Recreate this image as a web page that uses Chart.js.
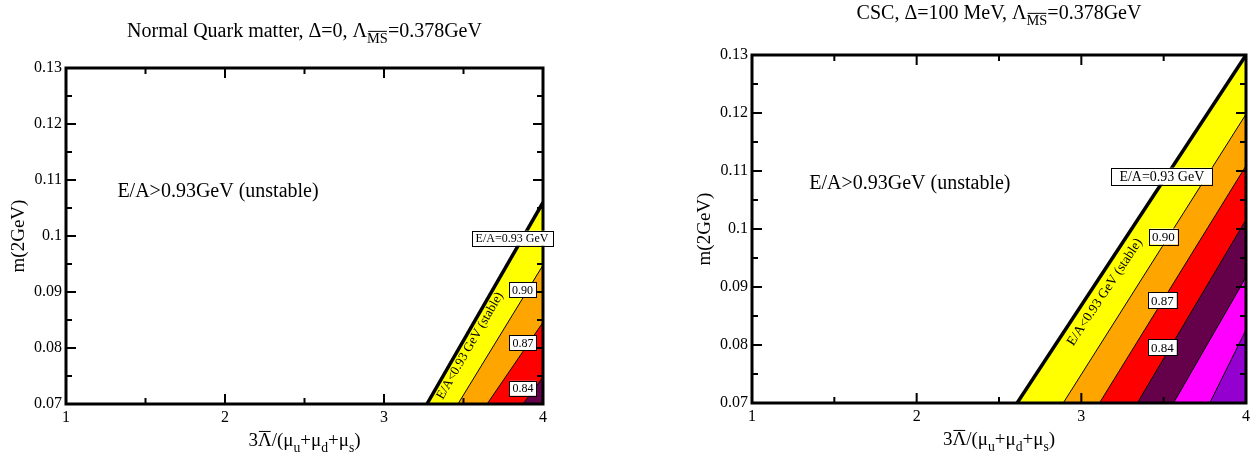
<!DOCTYPE html>
<html>
<head>
<meta charset="utf-8">
<script src="https://cdn.jsdelivr.net/npm/chart.js@4.4.0/dist/chart.umd.min.js"></script>
<style>
  html, body { margin: 0; padding: 0; background: #fff; }
  #wrap { position: relative; width: 1260px; height: 456px; }
  .panel { position: absolute; top: 0; width: 630px; height: 456px; }
</style>
</head>
<body>
<div id="wrap">
  <div class="panel" style="left:0"><canvas id="chart-normal"></canvas></div>
  <div class="panel" style="left:630px"><canvas id="chart-csc"></canvas></div>
</div>
<script>
  'use strict';

  var FONT = '"Liberation Serif", "DejaVu Serif", serif';

  // axis ticks
  var X_TICKS = [1, 2, 3, 4];
  var X_MINOR = [1.5, 2.5, 3.5];
  var Y_TICKS = [0.07, 0.08, 0.09, 0.1, 0.11, 0.12, 0.13];
  var Y_MINOR = [0.075, 0.085, 0.095, 0.105, 0.115, 0.125];
  var M_MIN = 0.07;
  var X_MAX = 4;

  // E/A contour levels (GeV); each level line runs from the bottom edge (m = 0.07)
  // to the right edge (x = 4)
  var NORMAL_LEVELS = [0.93, 0.90, 0.87, 0.84];
  var NORMAL_X_AT_BOTTOM = [3.27, 3.465, 3.648, 3.874];
  var NORMAL_M_AT_RIGHT = [0.106, 0.0948, 0.0846, 0.0748];

  var CSC_LEVELS = [0.93, 0.90, 0.87, 0.84, 0.81, 0.78];
  var CSC_X_AT_BOTTOM = [2.61, 2.89, 3.11, 3.34, 3.56, 3.78];
  var CSC_M_AT_RIGHT = [0.13, 0.1198, 0.1109, 0.1016, 0.0917, 0.0826];

  var BAND_COLORS = ['#ffff00', '#ffa500', '#ff0000', '#65004a', '#ff00ff', '#9400d0'];

  function buildDatasets(levels, xb, mr) {
    var sets = [];
    // level lines on top
    levels.forEach(function (lv, i) {
      sets.push({
        label: 'E/A=' + lv,
        data: [{ x: xb[i], y: M_MIN }, { x: X_MAX, y: mr[i] }],
        showLine: true,
        borderColor: '#000',
        borderWidth: i === 0 ? 3.5 : 1,
        pointRadius: 0,
        fill: false,
        order: 0
      });
    });
    // filled bands between neighbouring levels
    levels.forEach(function (lv, i) {
      var pts = [{ x: xb[i], y: M_MIN }, { x: X_MAX, y: mr[i] }];
      if (i < levels.length - 1) {
        pts.push({ x: X_MAX, y: mr[i + 1] }, { x: xb[i + 1], y: M_MIN });
      } else {
        pts.push({ x: X_MAX, y: M_MIN });
      }
      sets.push({
        label: 'band ' + lv,
        data: pts,
        showLine: true,
        borderWidth: 0,
        borderColor: BAND_COLORS[i],
        backgroundColor: BAND_COLORS[i],
        pointRadius: 0,
        fill: 'shape',
        order: 1
      });
    });
    return sets;
  }

  // text with subscripts / overlines
  function drawRich(ctx, parts, cx, cy, size) {
    var total = 0;
    parts.forEach(function (p) {
      var s = p.sub ? size * 0.72 : size;
      ctx.font = s + 'px ' + FONT;
      p.w = ctx.measureText(p.t).width;
      total += p.w;
    });
    var x = cx - total / 2;
    var base = cy + size * 0.33;
    ctx.textAlign = 'left';
    ctx.textBaseline = 'alphabetic';
    ctx.fillStyle = '#000';
    ctx.strokeStyle = '#000';
    parts.forEach(function (p) {
      var s = p.sub ? size * 0.72 : size;
      var y = p.sub ? base + size * 0.3 : base;
      ctx.font = s + 'px ' + FONT;
      ctx.fillText(p.t, x, y);
      if (p.over) {
        var oy = y - s * 0.78;
        ctx.lineWidth = 1;
        ctx.beginPath();
        ctx.moveTo(x + 1, oy);
        ctx.lineTo(x + p.w - 1, oy);
        ctx.stroke();
      }
      x += p.w;
    });
  }

  var X_TITLE = [
    { t: '3' }, { t: '\u039B', over: true }, { t: '/(\u03BC' }, { t: 'u', sub: true },
    { t: '+\u03BC' }, { t: 'd', sub: true }, { t: '+\u03BC' }, { t: 's', sub: true }, { t: ')' }
  ];

  var panelText = {
    id: 'panelText',
    afterDatasetsDraw: function (chart, args, o) {
      var ctx = chart.ctx;
      var a = chart.chartArea;
      var xs = chart.scales.x, ys = chart.scales.y;
      ctx.save();
      ctx.strokeStyle = '#000';

      // inward ticks on all four sides
      function xt(v, len) {
        var px = xs.getPixelForValue(v);
        ctx.beginPath();
        ctx.moveTo(px, a.bottom); ctx.lineTo(px, a.bottom - len);
        ctx.moveTo(px, a.top); ctx.lineTo(px, a.top + len);
        ctx.stroke();
      }
      function yt(v, len) {
        var py = ys.getPixelForValue(v);
        ctx.beginPath();
        ctx.moveTo(a.left, py); ctx.lineTo(a.left + len, py);
        ctx.moveTo(a.right, py); ctx.lineTo(a.right - len, py);
        ctx.stroke();
      }
      ctx.lineWidth = 2;
      X_TICKS.forEach(function (v) { xt(v, 10); });
      X_MINOR.forEach(function (v) { xt(v, 6); });
      Y_TICKS.forEach(function (v) { yt(v, 10); });
      Y_MINOR.forEach(function (v) { yt(v, 6); });

      // frame
      ctx.lineWidth = 3;
      ctx.strokeRect(a.left, a.top, a.right - a.left, a.bottom - a.top);

      // level labels in boxes
      o.boxes.forEach(function (b) {
        ctx.font = b.size + 'px ' + FONT;
        var w = ctx.measureText(b.text).width + b.pad * 2;
        var h = b.size + 3;
        var cx = xs.getPixelForValue(b.x), cy = ys.getPixelForValue(b.y);
        ctx.fillStyle = '#fff';
        ctx.fillRect(cx - w / 2, cy - h / 2, w, h);
        ctx.lineWidth = 1;
        ctx.strokeRect(Math.round(cx - w / 2) + 0.5, Math.round(cy - h / 2) + 0.5, Math.round(w), Math.round(h));
        ctx.fillStyle = '#000';
        ctx.textAlign = 'center';
        ctx.textBaseline = 'middle';
        ctx.fillText(b.text, cx, cy + 1);
      });

      // text along the stable band
      var st = o.stable;
      ctx.save();
      ctx.translate(xs.getPixelForValue(st.x), ys.getPixelForValue(st.y));
      ctx.rotate(-st.angle * Math.PI / 180);
      ctx.font = st.size + 'px ' + FONT;
      ctx.fillStyle = '#000';
      ctx.textAlign = 'center';
      ctx.textBaseline = 'middle';
      ctx.fillText('E/A<0.93 GeV (stable)', 0, 0);
      ctx.restore();

      // unstable region
      ctx.font = o.unstable.size + 'px ' + FONT;
      ctx.fillStyle = '#000';
      ctx.textAlign = 'center';
      ctx.textBaseline = 'middle';
      ctx.fillText('E/A>0.93GeV (unstable)', xs.getPixelForValue(o.unstable.x), ys.getPixelForValue(o.unstable.y));

      // panel title
      var mid = (a.left + a.right) / 2;
      drawRich(ctx, o.title, mid + o.titleDx, a.top - o.titleGap, 20);

      // axis titles
      drawRich(ctx, X_TITLE, mid, a.bottom + 36, 19);
      ctx.save();
      ctx.translate(a.left - 47, (a.top + a.bottom) / 2);
      ctx.rotate(-Math.PI / 2);
      ctx.font = '19px ' + FONT;
      ctx.textAlign = 'center';
      ctx.textBaseline = 'middle';
      ctx.fillStyle = '#000';
      ctx.fillText('m(2GeV)', 0, 0);
      ctx.restore();

      ctx.restore();
    }
  };

  function makeChart(canvasId, levels, xb, mr, layout, text) {
    return new Chart(document.getElementById(canvasId), {
      type: 'scatter',
      data: { datasets: buildDatasets(levels, xb, mr) },
      options: {
        responsive: true,
        maintainAspectRatio: false,
        animation: false,
        layout: { padding: layout.padding },
        scales: {
          x: {
            type: 'linear', min: 1, max: X_MAX,
            afterBuildTicks: function (s) { s.ticks = X_TICKS.map(function (v) { return { value: v }; }); },
            afterFit: function (s) { s.height = layout.xHeight; },
            grid: { display: false, drawTicks: false },
            border: { display: false },
            ticks: {
              color: '#000', padding: 4, maxRotation: 0,
              font: { family: FONT, size: 16 },
              callback: function (v) { return String(v); }
            }
          },
          y: {
            type: 'linear', min: M_MIN, max: 0.13,
            afterBuildTicks: function (s) { s.ticks = Y_TICKS.map(function (v) { return { value: v }; }); },
            afterFit: function (s) { s.width = 66; },
            grid: { display: false, drawTicks: false },
            border: { display: false },
            ticks: {
              color: '#000', padding: 4,
              font: { family: FONT, size: 16 },
              callback: function (v) { return String(+v.toFixed(2)); }
            }
          }
        },
        plugins: {
          legend: { display: false },
          tooltip: { enabled: false },
          panelText: text
        }
      },
      plugins: [panelText]
    });
  }

  makeChart('chart-normal', NORMAL_LEVELS, NORMAL_X_AT_BOTTOM, NORMAL_M_AT_RIGHT,
    { padding: { left: 0, right: 87, top: 68, bottom: 0 }, xHeight: 52 },
    {
      title: [{ t: 'Normal Quark matter, \u0394=0, \u039B' }, { t: 'MS', sub: true, over: true }, { t: '=0.378GeV' }],
      titleGap: 38,
      titleDx: 0,
      boxes: [
        { text: 'E/A=0.93 GeV', x: 3.805, y: 0.0996, size: 12, pad: 4 },
        { text: '0.90', x: 3.871, y: 0.0904, size: 12, pad: 3 },
        { text: '0.87', x: 3.874, y: 0.0809, size: 12, pad: 3 },
        { text: '0.84', x: 3.874, y: 0.0728, size: 12, pad: 3 }
      ],
      stable: { x: 3.541, y: 0.0804, angle: 60, size: 13 },
      unstable: { x: 1.956, y: 0.1079, size: 20 }
    });

  makeChart('chart-csc', CSC_LEVELS, CSC_X_AT_BOTTOM, CSC_M_AT_RIGHT,
    { padding: { left: 56, right: 14, top: 55, bottom: 0 }, xHeight: 53 },
    {
      title: [{ t: 'CSC, \u0394=100 MeV, \u039B' }, { t: 'MS', sub: true, over: true }, { t: '=0.378GeV' }],
      titleGap: 43,
      titleDx: 0,
      boxes: [
        { text: 'E/A=0.93 GeV', x: 3.489, y: 0.1091, size: 14, pad: 8 },
        { text: '0.90', x: 3.498, y: 0.0987, size: 13, pad: 3 },
        { text: '0.87', x: 3.492, y: 0.0877, size: 13, pad: 3 },
        { text: '0.84', x: 3.492, y: 0.0796, size: 13, pad: 3 }
      ],
      stable: { x: 3.143, y: 0.0891, angle: 56.5, size: 13.5 },
      unstable: { x: 1.959, y: 0.1078, size: 20 }
    });
</script>
</body>
</html>
